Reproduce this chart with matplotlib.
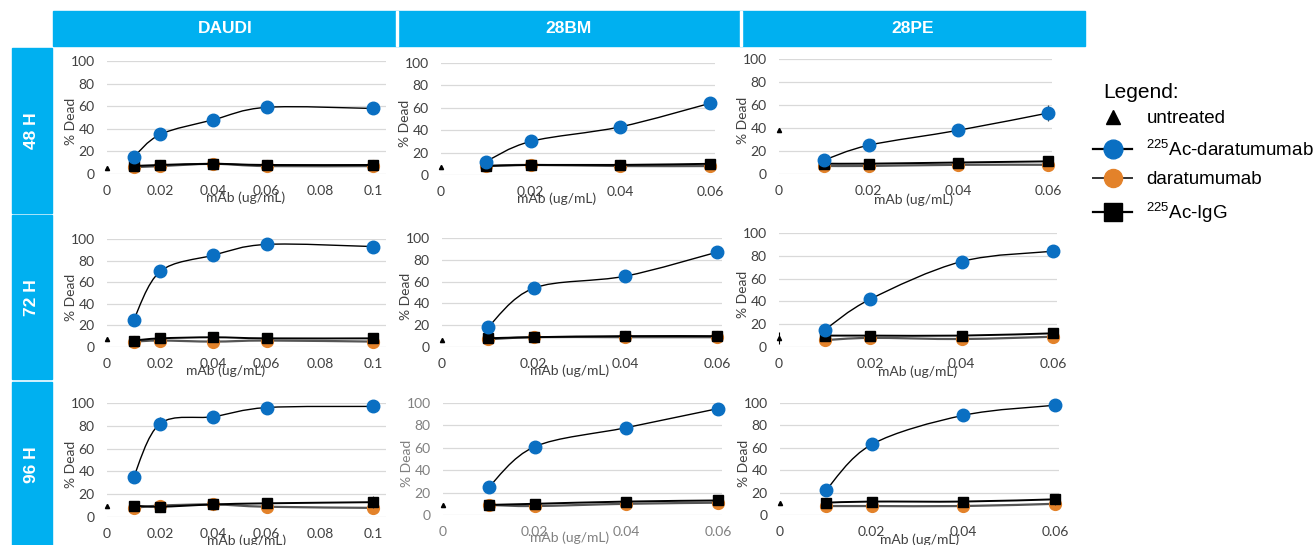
import numpy as np
import matplotlib.pyplot as plt
from matplotlib.path import Path
from matplotlib.patches import PathPatch, Rectangle
from matplotlib.lines import Line2D

W, H = 1315, 545
BLUE_HDR = "#00B0F0"
C_AC = "#0A6FC2"
C_DARA = "#E3822A"
TXT = "#404040"

cells = ["DAUDI", "28BM", "28PE"]
times = ["48 H", "72 H", "96 H"]

# x values (ug/mL) and axis ticks
daudi_x = [0.01, 0.02, 0.04, 0.06, 0.1]
daudi_ticks = [0, 0.02, 0.04, 0.06, 0.08, 0.1]
bm_x = [0.01, 0.02, 0.04, 0.06]
bm_ticks = [0, 0.02, 0.04, 0.06]
pe_x = [0.01, 0.02, 0.04, 0.06]
pe_ticks = [0, 0.02, 0.04, 0.06]

# % dead, rows = 48 H, 72 H, 96 H
daudi_untreated = [5, 7, 10]
daudi_untreated_err = [0, 0, 0]
daudi_acdara = [[15, 35, 48, 59, 58], [25, 70, 85, 95, 93], [35, 82, 88, 96, 97]]
daudi_acdara_err = [[2, 3, 2, 2, 4], [4, 4, 2, 2, 5], [4, 6, 2, 1, 1]]
daudi_dara = [[6, 7, 9, 7, 7], [5, 6, 5, 6, 5], [8, 10, 11, 9, 8]]
daudi_dara_err = [[1, 2, 2, 1, 1], [1, 1, 1, 1, 1], [5, 4, 5, 4, 3]]
daudi_igg = [[7, 8, 9, 8, 8], [6, 8, 9, 8, 8], [10, 9, 11, 12, 13]]
daudi_igg_err = [[1, 3, 1, 1, 1], [1, 1, 2, 2, 1], [4, 4, 5, 4, 5]]

bm_untreated = [7, 6, 9]
bm_untreated_err = [0, 0, 0]
bm_acdara = [[12, 30, 43, 64], [18, 54, 65, 87], [25, 61, 78, 95]]
bm_acdara_err = [[2, 2, 5, 5], [2, 2, 5, 4], [2, 4, 2, 4]]
bm_dara = [[8, 9, 8, 8], [7, 9, 9, 9], [9, 8, 10, 11]]
bm_dara_err = [[1, 1, 4, 1], [1, 3, 5, 2], [4, 1, 1, 2]]
bm_igg = [[8, 9, 9, 10], [8, 9, 10, 10], [9, 10, 12, 13]]
bm_igg_err = [[1, 1, 2, 1], [1, 2, 3, 2], [3, 2, 2, 3]]

pe_untreated = [38, 8, 11]
pe_untreated_err = [0, 5, 0]
pe_acdara = [[12, 25, 38, 53], [15, 42, 75, 84], [22, 63, 89, 98]]
pe_acdara_err = [[2, 2, 2, 7], [3, 4, 4, 4], [1, 5, 5, 1]]
pe_dara = [[7, 7, 8, 8], [6, 8, 7, 9], [8, 8, 8, 10]]
pe_dara_err = [[1, 1, 3, 2], [1, 4, 1, 1], [2, 5, 2, 2]]
pe_igg = [[9, 9, 10, 11], [10, 10, 10, 12], [11, 12, 12, 14]]
pe_igg_err = [[1, 1, 2, 4], [1, 2, 2, 1], [2, 1, 4, 5]]

series = {
    "DAUDI": (daudi_x, daudi_ticks, daudi_untreated, daudi_untreated_err, daudi_acdara,
              daudi_acdara_err, daudi_dara, daudi_dara_err, daudi_igg, daudi_igg_err),
    "28BM": (bm_x, bm_ticks, bm_untreated, bm_untreated_err, bm_acdara, bm_acdara_err,
             bm_dara, bm_dara_err, bm_igg, bm_igg_err),
    "28PE": (pe_x, pe_ticks, pe_untreated, pe_untreated_err, pe_acdara, pe_acdara_err,
             pe_dara, pe_dara_err, pe_igg, pe_igg_err),
}

# panel pixel layout: x of 0, x of last tick, right edge of grid, y of 100, y of 0
layout = [
    [(107, 373, 386, 61, 174), (441, 710, 715, 63, 175), (779, 1048, 1052, 59, 174)],
    [(107, 373, 386, 239, 347), (442, 717, 722, 238, 347), (779, 1053, 1057, 233, 347)],
    [(107, 373, 386, 403, 517), (443, 718, 722, 403, 515), (780, 1055, 1059, 403, 515)],
]
xlab_pos = [
    [(246, 198), (557, 199), (914, 200)],
    [(226, 371), (570, 371), (918, 372)],
    [(247, 541), (570, 538), (920, 540)],
]


def px_rect(x0, y0, x1, y1):
    return (x0 / W, 1 - y1 / H, (x1 - x0) / W, (y1 - y0) / H)


def add_box(x0, y0, x1, y1, color, z=0):
    r = px_rect(x0, y0, x1, y1)
    fig.patches.append(Rectangle(r[:2], r[2], r[3], transform=fig.transFigure,
                                 color=color, zorder=z))


def smooth_path(x, y):
    # Excel-style smoothed line as cubic bezier segments
    p = np.column_stack([x, y]).astype(float)
    q = np.vstack([p[0], p, p[-1]])
    verts = [p[0]]
    codes = [Path.MOVETO]
    for i in range(len(p) - 1):
        a, b, c, d = q[i], q[i + 1], q[i + 2], q[i + 3]
        verts += [b + (c - a) / 6, c - (d - b) / 6, c]
        codes += [Path.CURVE4] * 3
    return Path(verts, codes)


plt.rcParams['font.family'] = ['Lato', 'DejaVu Sans']
fig = plt.figure(figsize=(W / 100, H / 100), dpi=100)

# header bar
add_box(53, 11, 1085, 46, BLUE_HDR)
for xd in [397, 741]:
    add_box(xd - 1, 11, xd + 1, 46, "white", 1)
for name, cx in zip(cells, [225, 569, 913]):
    fig.text(cx / W, 1 - 28.5 / H, name, color="white", fontsize=12.5, fontweight="bold",
             ha="center", va="center", family="Liberation Sans")

# row labels
row_spans = [(48, 213), (215, 379), (382, 545)]
for t, (ya, yb) in zip(times, row_spans):
    add_box(12, ya, 52, yb, BLUE_HDR)
    fig.text(32 / W, 1 - (ya + 83) / H, t, color="white", fontsize=12.5, fontweight="bold",
             ha="center", va="center", rotation=90, family="Liberation Sans")

for r_i in range(3):
    for c_i, name in enumerate(cells):
        x, ticks, untr, untr_e, acd, acd_e, dara, dara_e, igg, igg_e = series[name]
        x0, xl, xg, y100, y0 = layout[r_i][c_i]
        ax = fig.add_axes(px_rect(x0, y100, xg, y0))
        xmax = ticks[-1] * (xg - x0) / (xl - x0)
        ax.set_xlim(0, xmax)
        ax.set_ylim(0, 100)
        tcol = "#808080" if (r_i == 2 and c_i == 1) else TXT
        ax.set_yticks([0, 20, 40, 60, 80, 100])
        ax.set_xticks(ticks)
        ax.set_xticklabels([f"{t:g}" for t in ticks])
        ax.tick_params(length=0, labelsize=10, colors=tcol)
        ax.tick_params(axis="y", pad=9)
        ax.tick_params(axis="x", pad=8)
        for s in ax.spines.values():
            s.set_visible(False)
        ax.grid(axis="y", color="#D9D9D9", lw=0.9)
        ax.set_axisbelow(True)

        for yv, ye, col, lc, mk, ms, lw, z in [
            (dara[r_i], dara_e[r_i], C_DARA, "#555555", "o", 8.5, 1.6, 4),
            (igg[r_i], igg_e[r_i], "black", "black", "s", 6.5, 1.4, 5),
            (acd[r_i], acd_e[r_i], C_AC, "black", "o", 9, 1.0, 6),
        ]:
            ax.add_patch(PathPatch(smooth_path(x, yv), fill=False, edgecolor=lc, lw=lw, zorder=z))
            ax.errorbar(x, yv, yerr=ye, fmt="none", ecolor="#404040", elinewidth=0.8,
                        capsize=0, zorder=z + 0.1)
            ax.plot(x, yv, ls="none", marker=mk, ms=ms, color=col, zorder=z + 0.2, clip_on=False)
        ax.errorbar([0], [untr[r_i]], yerr=[untr_e[r_i]], fmt="^", ms=3, color="black",
                    elinewidth=0.8, capsize=0, clip_on=False, zorder=7)

        ycen = (y100 + y0) / 2 + 4
        fig.text((x0 - 36) / W, 1 - ycen / H, "% Dead", rotation=90, ha="center", va="center",
                 fontsize=10, color=tcol)
        lx, ly = xlab_pos[r_i][c_i]
        fig.text(lx / W, 1 - ly / H, "mAb (ug/mL)", ha="center", va="center",
                 fontsize=10, color=tcol)

# legend
fig.text(1103 / W, 1 - 92 / H, "Legend:", fontsize=15, va="center", ha="left",
         family="Liberation Sans")
handles = [
    Line2D([], [], ls="none", marker="^", ms=10, color="black"),
    Line2D([], [], color="black", lw=1.6, marker="o", ms=13.5, mfc=C_AC, mec=C_AC),
    Line2D([], [], color="#333333", lw=1.4, marker="o", ms=13, mfc=C_DARA, mec=C_DARA),
    Line2D([], [], color="black", lw=1.6, marker="s", ms=13),
]
labels = ["untreated", r"$^{\mathregular{225}}$Ac-daratumumab", "daratumumab",
          r"$^{\mathregular{225}}$Ac-IgG"]
leg = fig.legend(handles, labels, loc="upper left",
                 bbox_to_anchor=(1093 / W, 1 - 110 / H), frameon=False,
                 prop={"family": "Liberation Sans", "size": 13.5},
                 handlelength=2.1, labelspacing=0.62, handletextpad=0.75,
                 borderpad=0, borderaxespad=0)

fig.savefig("out.png", dpi=100)
